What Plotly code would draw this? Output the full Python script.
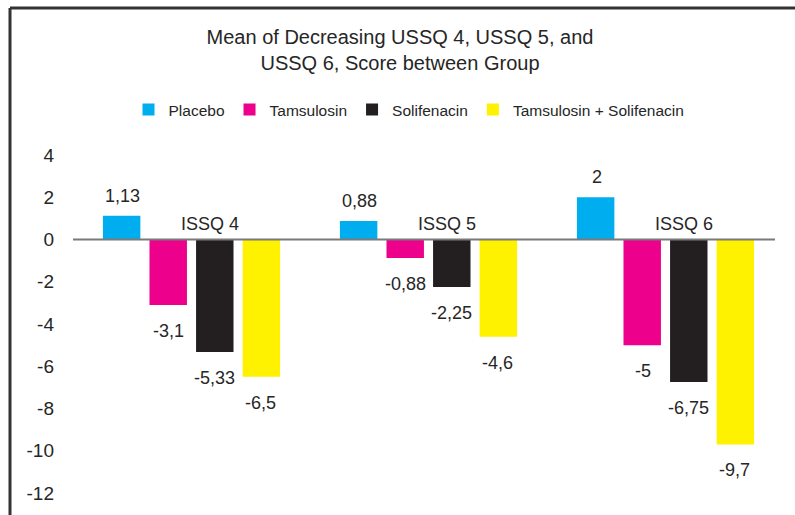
import plotly.graph_objects as go

categories = ["ISSQ 4", "ISSQ 5", "ISSQ 6"]
series_names = ["Placebo", "Tamsulosin", "Solifenacin", "Tamsulosin + Solifenacin"]
placebo = [1.13, 0.88, 2]
tamsulosin = [-3.1, -0.88, -5]
solifenacin = [-5.33, -2.25, -6.75]
tam_sol = [-6.5, -4.6, -9.7]
series_values = [placebo, tamsulosin, solifenacin, tam_sol]
colors = ["#00AEEF", "#EC008C", "#231F20", "#FFF200"]
y_ticks = [4, 2, 0, -2, -4, -6, -8, -10, -12]

FONT = "Liberation Sans, Arial, Helvetica, sans-serif"
TXT = "#262626"

def fmt(v):
    s = f"{v:.2f}".rstrip("0").rstrip(".")
    return s.replace(".", ",")

fig = go.Figure()
for name, vals, col in zip(series_names, series_values, colors):
    fig.add_trace(go.Bar(
        x=categories, y=vals, name=name,
        marker=dict(color=col, line=dict(width=0)),
    ))

annotations = []
n = len(series_names)
step = 46
for i, vals in enumerate(series_values):
    for cat, v in zip(categories, vals):
        annotations.append(dict(
            x=cat, y=v, xref="x", yref="y", text=fmt(v), showarrow=False,
            xshift=(i - (n - 1) / 2) * step,
            yanchor="bottom" if v > 0 else "top",
            yshift=8 if v > 0 else -14,
            font=dict(family=FONT, size=18, color=TXT),
        ))
for cat in categories:
    annotations.append(dict(
        x=cat, y=0, xref="x", yref="y", text=cat, showarrow=False,
        xshift=18, yanchor="bottom", yshift=4,
        font=dict(family=FONT, size=18, color=TXT),
    ))

L, R, T, B = 73, 11, 155, 22
W, H = 795, 515
pw = W - L - R
ph = H - T - B

def px_x(p):
    return (p - L) / pw

def px_y(p):
    return (H - B - p) / ph

shapes = [
    dict(type="line", xref="paper", yref="y", x0=0, x1=px_x(775), y0=0, y1=0,
         line=dict(color="#7a7a7a", width=2), layer="above"),
    dict(type="line", xref="paper", yref="paper",
         x0=px_x(10), x1=px_x(W + 5), y0=px_y(8), y1=px_y(8),
         line=dict(color="#333333", width=3), layer="above"),
    dict(type="line", xref="paper", yref="paper",
         x0=px_x(10), x1=px_x(10), y0=px_y(8), y1=px_y(H + 5),
         line=dict(color="#333333", width=3), layer="above"),
]

fig.update_layout(
    width=W, height=H,
    margin=dict(l=L, r=R, t=T, b=B),
    paper_bgcolor="white", plot_bgcolor="white",
    barmode="group", bargap=0.214, bargroupgap=0.196,
    font=dict(family=FONT, color=TXT),
    title=dict(
        text="Mean of Decreasing USSQ 4, USSQ 5, and<br>USSQ 6, Score between Group",
        x=400 / W, xanchor="center", xref="container",
        y=1 - 44 / H, yanchor="top", yref="container",
        font=dict(family=FONT, size=20, color=TXT),
    ),
    legend=dict(
        orientation="h", x=px_x(409), xanchor="center",
        y=px_y(110), yanchor="middle",
        font=dict(family=FONT, size=15.5, color=TXT),
        bgcolor="rgba(0,0,0,0)",
    ),
    xaxis=dict(
        type="category", range=[-0.5, 2.5], showticklabels=False,
        showgrid=False, zeroline=False, showline=False, ticks="",
    ),
    yaxis=dict(
        range=[-12, 4], tickvals=y_ticks, ticktext=[str(t) for t in y_ticks],
        showgrid=False, zeroline=False, showline=False, ticks="",
        ticklabelstandoff=18,
        tickfont=dict(family=FONT, size=19, color=TXT),
    ),
    annotations=annotations,
    shapes=shapes,
    showlegend=True,
)

fig.write_html("out.html")
